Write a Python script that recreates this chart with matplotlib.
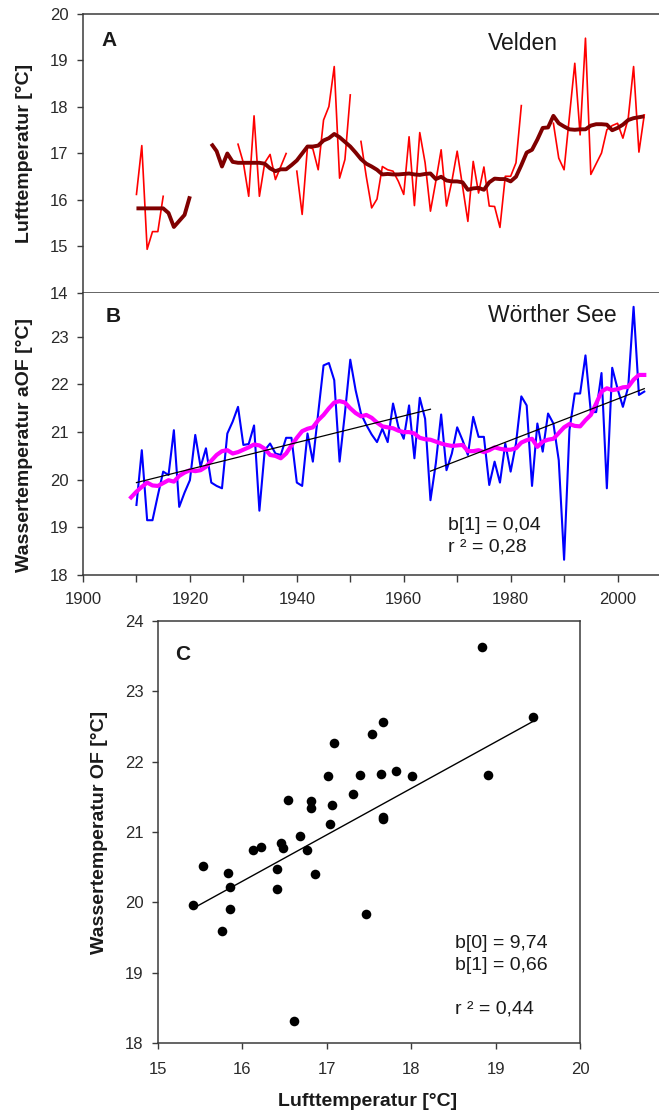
import numpy as np
import matplotlib
matplotlib.use("Agg")
import matplotlib.pyplot as plt
from matplotlib.ticker import MultipleLocator

plt.rcParams['font.family'] = ['Liberation Sans', 'DejaVu Sans']

nan = np.nan

# ---- Panel A: air temperature Velden (annual means and smoothed curve) ----
years = np.arange(1910, 2006)
velden_air = [
    16.12, 17.17, 14.94, 15.32, 15.32, 16.08, nan, nan, nan, nan,
    nan, nan, nan, nan, nan, nan, nan, nan, nan, 17.20,
    16.80, 16.08, 17.81, 16.08, 16.80, 16.98, 16.44, 16.72, 17.00, nan,
    16.62, 15.69, 17.15, 17.10, 16.65, 17.72, 18.01, 18.87, 16.47, 16.87,
    18.26, nan, 17.26, 16.50, 15.83, 16.02, 16.72, 16.65, 16.62, 16.40,
    16.12, 17.36, 15.88, 17.45, 16.80, 15.76, 16.40, 17.08, 15.87, 16.40,
    17.05, 16.30, 15.54, 16.83, 16.15, 16.71, 15.87, 15.86, 15.41, 16.51,
    16.51, 16.80, 18.03, nan, nan, nan, nan, nan, 17.65, 16.90,
    16.65, 17.80, 18.94, 17.40, 19.48, 16.55, 16.78, 17.01, 17.51, 17.60,
    17.65, 17.33, 17.76, 18.87, 17.03, 17.83,
]
velden_smooth = [
    15.82, 15.82, 15.82, 15.82, 15.82, 15.82, 15.72, 15.42, 15.55, 15.68,
    16.08, nan, nan, nan, 17.21, 17.05, 16.72, 17.00, 16.82, 16.80,
    16.80, 16.80, 16.80, 16.80, 16.78, 16.68, 16.62, 16.66, 16.66, 16.75,
    16.85, 17.00, 17.15, 17.15, 17.17, 17.28, 17.33, 17.42, 17.35, 17.25,
    17.15, 17.02, 16.88, 16.78, 16.72, 16.65, 16.55, 16.56, 16.55, 16.55,
    16.56, 16.57, 16.55, 16.54, 16.56, 16.57, 16.45, 16.50, 16.42, 16.40,
    16.40, 16.38, 16.22, 16.25, 16.26, 16.22, 16.38, 16.46, 16.45, 16.45,
    16.40, 16.50, 16.75, 17.02, 17.08, 17.30, 17.55, 17.56, 17.81, 17.65,
    17.58, 17.52, 17.51, 17.52, 17.52, 17.60, 17.63, 17.63, 17.62, 17.50,
    17.55, 17.62, 17.72, 17.76, 17.78, 17.80,
]

# ---- Panel B: surface water temperature Woerther See ----
woerther_water = [
    19.47, 20.62, 19.15, 19.15, 19.67, 20.17, 20.10, 21.04, 19.43, 19.73,
    19.99, 20.94, 20.27, 20.66, 19.94, 19.87, 19.82, 20.97, 21.22, 21.53,
    20.73, 20.75, 21.14, 19.35, 20.62, 20.76, 20.55, 20.52, 20.88, 20.88,
    19.94, 19.87, 20.97, 20.38, 21.40, 22.40, 22.45, 22.09, 20.38, 21.40,
    22.52, 21.88, 21.39, 21.15, 20.95, 20.79, 21.07, 20.79, 21.60, 21.11,
    20.86, 21.56, 20.45, 21.72, 21.28, 19.57, 20.34, 21.37, 20.20, 20.55,
    21.10, 20.83, 20.52, 21.32, 20.90, 20.90, 19.89, 20.38, 19.94, 20.76,
    20.17, 20.76, 21.75, 21.56, 19.87, 21.18, 20.59, 21.39, 21.18, 20.41,
    18.32, 21.04, 21.81, 21.81, 22.61, 21.42, 21.42, 22.24, 19.82, 22.35,
    21.91, 21.53, 21.95, 23.63, 21.78, 21.85,
]
smooth_years = np.arange(1909, 2006)
woerther_smooth = [
    19.63,
    19.75, 19.85, 19.94, 19.88, 19.87, 19.93, 19.99, 19.96, 20.08, 20.15,
    20.20, 20.18, 20.20, 20.27, 20.40, 20.52, 20.60, 20.62, 20.55, 20.58,
    20.63, 20.68, 20.74, 20.72, 20.65, 20.52, 20.50, 20.45, 20.55, 20.72,
    20.88, 21.02, 21.07, 21.10, 21.25, 21.36, 21.50, 21.62, 21.65, 21.62,
    21.50, 21.40, 21.33, 21.36, 21.30, 21.20, 21.12, 21.10, 21.08, 21.03,
    21.00, 21.00, 20.97, 20.88, 20.85, 20.84, 20.80, 20.76, 20.73, 20.71,
    20.72, 20.73, 20.60, 20.60, 20.62, 20.58, 20.62, 20.68, 20.65, 20.63,
    20.63, 20.66, 20.78, 20.83, 20.86, 20.69, 20.80, 20.84, 20.86, 20.98,
    21.10, 21.17, 21.13, 21.12, 21.25, 21.36, 21.60, 21.85, 21.92, 21.88,
    21.90, 21.94, 21.95, 22.10, 22.20, 22.20,
]
# linear trends for the two sub-periods
trend_early_years = [1910, 1965]
trend_early_vals = [19.94, 21.48]
trend_late_years = [1965, 2005]
trend_late_start = 20.18
trend_late_slope = 0.0433
trend_late_r2 = 0.28

# ---- Panel C: water vs. air temperature ----
air_temp = [15.41, 15.53, 15.83, 15.85, 15.85, 15.76, 16.13, 16.22, 16.41, 16.41,
            16.46, 16.48, 16.54, 16.68, 16.76, 16.81, 16.81, 16.86, 17.01, 17.06,
            17.04, 17.09, 17.31, 17.39, 17.46, 17.54, 17.64, 17.67, 17.67, 17.67,
            17.82, 18.01, 16.61, 18.84, 19.44, 18.91]
water_temp = [19.96, 20.51, 20.41, 20.22, 19.91, 19.59, 20.74, 20.79, 20.47, 20.19,
              20.85, 20.77, 21.46, 20.94, 20.74, 21.44, 21.34, 20.40, 21.79, 21.39,
              21.11, 22.26, 21.54, 21.81, 19.84, 22.39, 21.83, 22.56, 21.22, 21.18,
              21.87, 21.79, 18.31, 23.63, 22.64, 21.81]
reg_b0 = 9.74
reg_b1 = 0.66
reg_r2 = 0.44

# ---------------------------------------------------------------------------
W, H = 659, 1115
fig = plt.figure(figsize=(W / 100, H / 100), dpi=100)
fig.patch.set_facecolor('white')


def box(left, top, right, bottom):
    return [left / W, 1 - bottom / H, (right - left) / W, (bottom - top) / H]


def px(x, y):
    return x / W, 1 - y / H


spine_col = '#3a3a3a'
txt_col = '#1a1a1a'
tick_kw = dict(direction='out', length=4, width=1.0, color=spine_col,
               labelsize=12, labelcolor='#2a2a2a')


def style(ax):
    for s in ax.spines.values():
        s.set_color(spine_col)
        s.set_linewidth(1.1)
    ax.tick_params(which='both', **tick_kw)
    ax.tick_params(axis='y', pad=6.5)


# Panel A
axA = fig.add_axes(box(83, 14, 671, 293))
style(axA)
axA.plot(years, velden_air, color='#ff0000', lw=1.2)
axA.plot(years, velden_smooth, color='#800000', lw=2.8, solid_capstyle='butt')
axA.set_xlim(1900, 2010)
axA.set_ylim(14, 20)
axA.set_yticks(range(14, 21))
axA.tick_params(axis='x', bottom=False, labelbottom=False)
axA.spines['right'].set_visible(False)

# Panel B
axB = fig.add_axes(box(83, 293, 671, 575))
style(axB)
axB.plot(years, woerther_water, color='#0000ff', lw=1.5)
axB.plot(smooth_years, woerther_smooth, color='#ff00ff', lw=3.0)
axB.plot(trend_early_years, trend_early_vals, color='black', lw=0.9)
tl_x = np.array(trend_late_years)
axB.plot(tl_x, trend_late_start + trend_late_slope * (tl_x - tl_x[0]),
         color='black', lw=0.9)
axB.set_xlim(1900, 2010)
axB.set_ylim(18, 23.92)
axB.set_yticks(range(18, 24))
axB.xaxis.set_major_locator(MultipleLocator(20))
axB.xaxis.set_minor_locator(MultipleLocator(10))
axB.tick_params(axis='x', which='both', length=5, pad=7)
axB.spines['top'].set_visible(False)
axB.spines['right'].set_visible(False)

# Panel C
axC = fig.add_axes(box(158, 621, 580, 1043))
style(axC)
axC.scatter(air_temp, water_temp, s=48, color='black', zorder=3, linewidths=0)
rx = np.array([min(air_temp), max(air_temp)])
axC.plot(rx, reg_b0 + reg_b1 * rx, color='black', lw=1.0)
axC.set_xlim(15, 20)
axC.set_ylim(18, 24)
axC.set_xticks(range(15, 21))
axC.set_yticks(range(18, 25))
axC.tick_params(axis='x', pad=10)

# Labels and annotations
lab_kw = dict(color=txt_col, fontweight='bold', fontsize=14, ha='center', va='center')
fig.text(*px(25, 153), 'Lufttemperatur [°C]', rotation=90, **lab_kw)
fig.text(*px(25, 445), 'Wassertemperatur aOF [°C]', rotation=90, **lab_kw)
fig.text(*px(100, 832), 'Wassertemperatur OF [°C]', rotation=90, **lab_kw)
fig.text(*px(368, 1101), 'Lufttemperatur [°C]', **lab_kw)

pan_kw = dict(color=txt_col, fontweight='bold', fontsize=15, ha='left', va='center')
fig.text(*px(101, 40), 'A', **pan_kw)
fig.text(*px(106, 317), 'B', **pan_kw)
fig.text(*px(175, 655), 'C', **pan_kw)

site_kw = dict(color=txt_col, fontsize=16.5, ha='left', va='center')
fig.text(*px(488, 43), 'Velden', **site_kw)
fig.text(*px(488, 316), 'Wörther See', **site_kw)

st_kw = dict(color=txt_col, fontsize=14, ha='left', va='center')
fig.text(*px(448, 525), f'b[1] = {trend_late_slope:.2f}'.replace('.', ','), **st_kw)
fig.text(*px(448, 547), f'r ² = {trend_late_r2:.2f}'.replace('.', ','), **st_kw)
fig.text(*px(455, 943), f'b[0] = {reg_b0:.2f}'.replace('.', ','), **st_kw)
fig.text(*px(455, 965), f'b[1] = {reg_b1:.2f}'.replace('.', ','), **st_kw)
fig.text(*px(455, 1009), f'r ² = {reg_r2:.2f}'.replace('.', ','), **st_kw)

fig.savefig('out.png', dpi=100, facecolor='white')
